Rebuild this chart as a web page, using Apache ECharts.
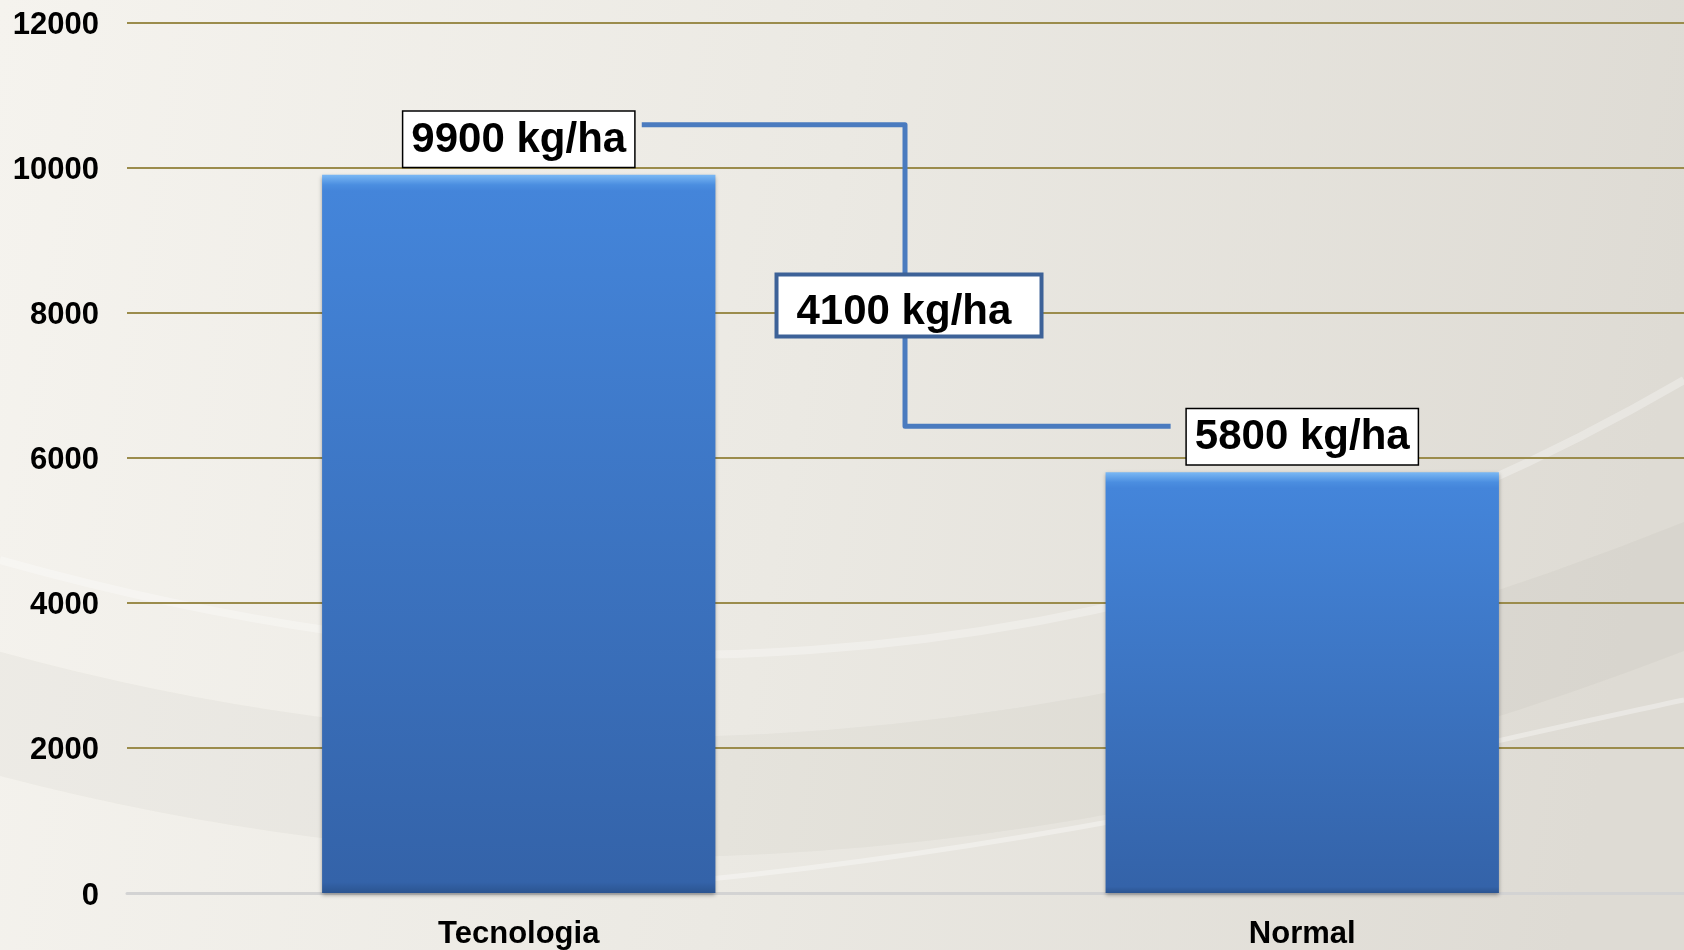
<!DOCTYPE html>
<html>
<head>
<meta charset="utf-8">
<script src="https://cdn.jsdelivr.net/npm/echarts@6/dist/echarts.min.js"></script>
<style>
  html, body { margin: 0; padding: 0; }
  #chart { width: 1684px; height: 950px; }
</style>
</head>
<body>
<div id="chart"></div>
<script>
// ---- data ----
const categories = ['Tecnologia', 'Normal'];
const yieldValues = [9900, 5800];
const unitSuffix = ' kg/ha';
const yTicks = [0, 2000, 4000, 6000, 8000, 10000, 12000];

// ---- chart ----
const chart = echarts.init(document.getElementById('chart'), null, { renderer: 'canvas' });
const FONT = '"Liberation Sans", Arial, sans-serif';

const barData = yieldValues.map(function (v) {
  const topFrac = Math.min(0.05, 10 / (v * 0.0726));
  return {
    value: v,
    itemStyle: {
      color: {
        type: 'linear', x: 0, y: 0, x2: 0, y2: 1,
        colorStops: [
          { offset: 0, color: '#7ab8f4' },
          { offset: topFrac, color: '#4b8ee0' },
          { offset: topFrac * 1.6, color: '#4485da' },
          { offset: 0.985, color: '#3463a9' },
          { offset: 1, color: '#2b5490' }
        ]
      }
    }
  };
});

const option = {
  animation: false,
  backgroundColor: {
    type: 'linear', x: 0, y: 0, x2: 1, y2: 0.3,
    colorStops: [
      { offset: 0, color: '#f5f3ee' },
      { offset: 0.5, color: '#ebe9e3' },
      { offset: 1, color: '#dedbd4' }
    ]
  },
  graphic: [
    {
      type: 'bezierCurve', silent: true, z: -10,
      shape: { x1: -50, y1: 700, cpx1: 500, cpy1: 860, cpx2: 1100, cpy2: 830, x2: 1750, y2: 560 },
      style: { fill: null, stroke: 'rgba(120,115,105,0.05)', lineWidth: 120 }
    },
    {
      type: 'bezierCurve', silent: true, z: -9,
      shape: { x1: 0, y1: 560, cpx1: 500, cpy1: 700, cpx2: 1100, cpy2: 720, x2: 1684, y2: 380 },
      style: { fill: null, stroke: 'rgba(255,255,255,0.3)', lineWidth: 8 }
    },
    {
      type: 'bezierCurve', silent: true, z: -9,
      shape: { x1: 700, y1: 880, cpx1: 1100, cpy1: 840, cpx2: 1400, cpy2: 760, x2: 1684, y2: 700 },
      style: { fill: null, stroke: 'rgba(255,255,255,0.35)', lineWidth: 5 }
    }
  ],
  grid: { left: 127, width: 1567, top: 22.5, bottom: 57, containLabel: false, outerBoundsMode: 'none' },
  xAxis: {
    type: 'category',
    data: categories,
    axisLine: { show: true, lineStyle: { color: '#d3d3d3', width: 3 } },
    axisTick: { show: false },
    axisLabel: {
      color: '#000', fontFamily: FONT, fontWeight: 'bold', fontSize: 31, margin: 26
    }
  },
  yAxis: {
    type: 'value',
    min: yTicks[0],
    max: yTicks[yTicks.length - 1],
    interval: yTicks[1] - yTicks[0],
    axisLine: { show: false },
    axisTick: { show: false },
    splitLine: { lineStyle: { color: '#9b8c4c', width: 2 } },
    axisLabel: {
      margin: 28,
      formatter: function (v) { return '{t|' + v + '}'; },
      rich: {
        t: {
          color: '#000', fontFamily: FONT, fontWeight: 'bold', fontSize: 31,
          padding: [6, 0, 0, 0]
        }
      }
    }
  },
  series: [
    {
      type: 'bar',
      data: barData,
      barWidth: '50.2%',
      itemStyle: { shadowColor: 'rgba(0,0,0,0.35)', shadowBlur: 4, shadowOffsetY: 2 },
      label: {
        show: true,
        position: 'top',
        distance: 8,
        formatter: function (p) { return p.value + unitSuffix; },
        color: '#000',
        fontFamily: FONT,
        fontWeight: 'bold',
        fontSize: 42,
        lineHeight: 47,
        backgroundColor: '#fff',
        borderColor: '#000',
        borderWidth: 1.5,
        padding: [5, 8, 3, 8]
      },
      z: 3
    },
    {
      type: 'custom',
      z: 5,
      data: [[0, yieldValues[0], 1, yieldValues[1]]],
      renderItem: function (params, api) {
        const pA = api.coord([api.value(0), api.value(1)]);
        const pB = api.coord([api.value(2), api.value(3)]);
        const band = api.size([1, 0])[0];
        const xMid = (pA[0] + pB[0]) / 2 - band * 0.007;
        const yUp = pA[1] - 50;
        const yLow = pB[1] - 46;
        const xStart = pA[0] + band * 0.157;
        const xEnd = pB[0] - band * 0.168;
        const lineStyle = { stroke: '#4a7bbf', lineWidth: 5, fill: null, lineJoin: 'round' };
        const diff = api.value(1) - api.value(3);
        const boxW = 265, boxH = 62;
        const boxTop = (yUp + yLow) / 2 - 1;
        return {
          type: 'group',
          children: [
            {
              type: 'polyline',
              shape: { points: [[xStart, yUp], [xMid, yUp], [xMid, yLow], [xEnd, yLow]] },
              style: lineStyle
            },
            {
              type: 'rect',
              shape: { x: xMid - boxW / 2 + 4, y: boxTop, width: boxW, height: boxH },
              style: { fill: '#fff', stroke: '#3d6298', lineWidth: 4 }
            },
            {
              type: 'text',
              x: xMid - boxW / 2 + 24,
              y: boxTop + 38,
              style: {
                text: diff + unitSuffix,
                fill: '#000',
                font: 'bold 42px ' + FONT,
                textAlign: 'left',
                textVerticalAlign: 'middle',
                shadowColor: 'rgba(0,0,0,0.45)',
                shadowBlur: 2,
                shadowOffsetX: 2,
                shadowOffsetY: 2
              }
            }
          ]
        };
      }
    }
  ]
};

chart.setOption(option);
</script>
</body>
</html>
